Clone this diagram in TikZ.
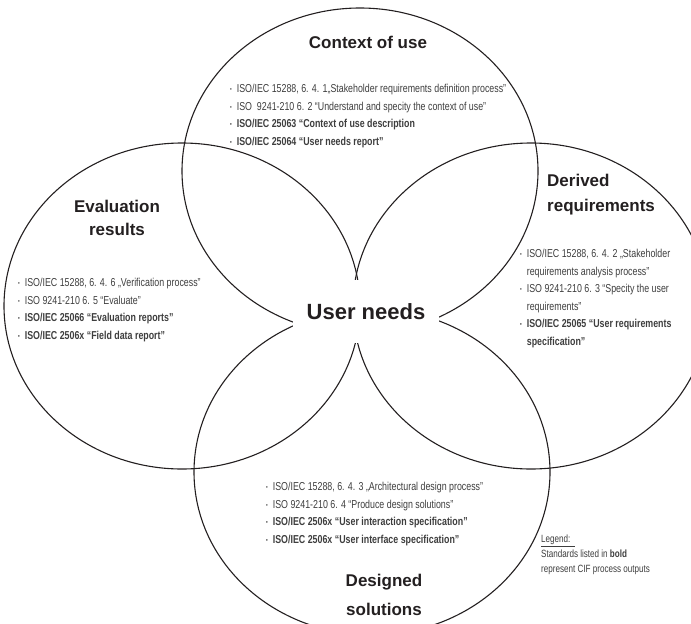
\documentclass[tikz,border=0pt]{standalone}
\usepackage{fontspec}
\usepackage{graphicx}
\setmainfont{Liberation Sans}
\newfontfamily\narrowfont[FakeStretch=0.77]{Liberation Sans}
\usetikzlibrary{positioning}
\definecolor{ink}{RGB}{35,31,32}
\definecolor{txtgray}{RGB}{62,62,62}
\newcommand{\bul}{\raisebox{0.15ex}{\scalebox{0.55}{•}}\ \ }
\newcommand{\hang}{\phantom{\bul}}

\begin{document}
\begin{tikzpicture}[
    x=1pt, y=-1pt,
    ring/.style={draw=ink, line width=1.1pt},
    hub/.style={fill=white, inner sep=0pt, minimum width=146pt, minimum height=63pt, text=ink, font=\bfseries\fontsize{22}{26}\selectfont},
    title/.style={inner sep=0pt, align=center, text=ink, font=\bfseries\fontsize{17}{#1}\selectfont},
    title/.default=23,
    stdlist/.style={inner sep=0pt, anchor=north west, align=left, text=txtgray, font=\narrowfont\fontsize{11.5}{17.5}\selectfont},
    legend/.style={inner sep=0pt, anchor=north west, align=left, text=txtgray, font=\narrowfont\fontsize{10.5}{15}\selectfont},
]

% Frame
\useasboundingbox (0,0) rectangle (691,624);
\clip (0,0) rectangle (691,624);

% Centres of the four fields
\coordinate (nC) at (360,171);
\coordinate (wC) at (182,306);
\coordinate (eC) at (531,306);
\coordinate (sC) at (372,472);

% Fields
\foreach \c in {nC,wC,eC,sC}
  \draw[ring] (\c) ellipse [x radius=178, y radius=163];

% Centre
\node[hub] (needs) at (366,311.5) {User needs};

% Titles
\node[title] (ctx) at (368,42) {Context of use};
\node[title] (eval) at (117,218) {Evaluation\\results};
\node[title=25, align=left, anchor=west] (derived) at (547,194.5) {Derived\\requirements};
\node[title=29] (design) at (384,595) {Designed\\solutions};

% Standards
\node[stdlist] (ctxlist) at (230,84) {\bul ISO/IEC 15288, 6. 4. 1„Stakeholder requirements definition process”\\
  \bul ISO\ \ 9241-210 6. 2\ “Understand and specity the context of use”\\
  \bfseries\bul ISO/IEC 25063\ “Context of use description\\
  \bfseries\bul ISO/IEC 25064\ “User needs report”};
\node[stdlist] (evallist) at (18,278) {\bul ISO/IEC 15288, 6. 4. 6 „Verification process”\\
  \bul ISO 9241-210 6. 5 “Evaluate”\\
  \bfseries\bul ISO/IEC 25066 “Evaluation reports”\\
  \bfseries\bul ISO/IEC 2506x\ “Field data report”};
\node[stdlist] (derivedlist) at (520,249) {\bul ISO/IEC 15288, 6. 4. 2 „Stakeholder\\
  \hang requirements analysis process”\\
  \bul ISO 9241-210 6. 3 “Specity the user\\
  \hang requirements”\\
  \bfseries\bul ISO/IEC 25065 “User requirements\\
  \bfseries\hang specification”};
\node[stdlist] (designlist) at (266,482) {\bul ISO/IEC 15288, 6. 4. 3 „Architectural design process”\\
  \bul ISO 9241-210 6. 4 “Produce design solutions”\\
  \bfseries\bul ISO/IEC 2506x “User interaction specification”\\
  \bfseries\bul ISO/IEC 2506x “User interface specification”};

% Legend
\node[legend] (key) at (541,535) {\underline{Legend:\ \ }\\
  Standards listed in \textbf{bold}\\
  represent CIF process outputs};

\end{tikzpicture}
\end{document}
